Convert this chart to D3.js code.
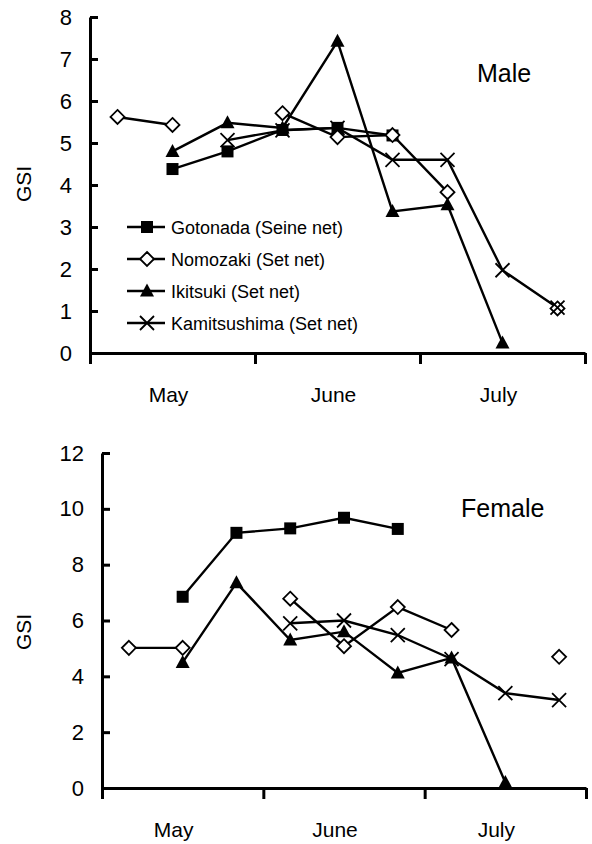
<!DOCTYPE html>
<meta charset="utf-8">
<style>
body { margin: 0; background: #fff; }
svg { display: block; }
.axis path, .axis line { stroke: #000; stroke-width: 3px; }
.axis text { font-family: 'Liberation Sans', Arial, sans-serif; font-size: 22px; fill: #000; }
.series { fill: none; stroke: #000; stroke-width: 2.4px; }
.lbl { font-family: 'Liberation Sans', Arial, sans-serif; fill: #000; }
</style>
<body>
<div id="chart"></div>
<script src="https://d3js.org/d3.v7.min.js"></script>
<script>
// ten-day periods, early / mid / late of each month
const periods = ["May-1", "May-2", "May-3", "Jun-1", "Jun-2", "Jun-3", "Jul-1", "Jul-2", "Jul-3"];
const months = ["May", "June", "July"];
const sites = ["Gotonada (Seine net)", "Nomozaki (Set net)", "Ikitsuki (Set net)", "Kamitsushima (Set net)"];
const markers = ["square", "diamond", "triangle", "cross"];

// GSI, male
const maleGotonada     = [null, 4.38, 4.8, 5.31, 5.36, 5.18, null, null, null];
const maleNomozaki     = [5.62, 5.43, null, 5.71, 5.14, 5.19, 3.83, null, 1.06];
const maleIkitsuki     = [null, 4.8, 5.48, 5.36, 7.42, 3.37, 3.53, 0.24, null];
const maleKamitsushima = [null, null, 5.07, 5.3, 5.36, 4.6, 4.6, 1.97, 1.08];

// GSI, female
const femaleGotonada     = [null, 6.85, 9.14, 9.3, 9.68, 9.28, null, null, null];
const femaleNomozaki     = [5.02, 5.02, null, 6.78, 5.08, 6.48, 5.66, null, 4.7];
const femaleIkitsuki     = [null, 4.5, 7.35, 5.3, 5.6, 4.12, 4.66, 0.2, null];
const femaleKamitsushima = [null, null, null, 5.9, 6.0, 5.48, 4.62, 3.4, 3.15];

const maleTicks = [0, 1, 2, 3, 4, 5, 6, 7, 8];
const femaleTicks = [0, 2, 4, 6, 8, 10, 12];

const width = 592, height = 844;

const svg = d3.select("#chart").append("svg")
	.attr("width", width)
	.attr("height", height);

// marker shapes, centred on 0,0
function marker(sel, type) {
	if (type == "square") {
		sel.append("rect").attr("x", -6).attr("y", -6).attr("width", 12).attr("height", 12)
			.attr("fill", "#000");
	} else if (type == "diamond") {
		sel.append("path").attr("d", "M0,-7L7,0L0,7L-7,0Z")
			.attr("fill", "#fff").attr("stroke", "#000").attr("stroke-width", 1.8);
	} else if (type == "triangle") {
		sel.append("path").attr("d", "M0,-7.5L7,5.5L-7,5.5Z")
			.attr("fill", "#000");
	} else {
		sel.append("path").attr("d", "M-7,-7L7,7M-7,7L7,-7")
			.attr("fill", "none").attr("stroke", "#000").attr("stroke-width", 1.8);
	}
}

function drawPanel(opts) {
	const g = svg.append("g");

	const x = d3.scalePoint().domain(periods).range([opts.left, opts.right]).padding(0.5);
	const xMonth = d3.scaleLinear().domain([0, months.length]).range([opts.left, opts.right]);
	const xBand = d3.scaleBand().domain(months).range([opts.left, opts.right]);
	const y = d3.scaleLinear().domain([0, opts.yMax]).range([opts.bottom, opts.top]);

	// axes
	g.append("g").attr("class", "axis")
		.attr("transform", "translate(" + opts.left + ",0)")
		.call(d3.axisLeft(y).tickValues(opts.ticks).tickSizeInner(-8).tickSizeOuter(0).tickPadding(18));

	g.append("g").attr("class", "axis")
		.attr("transform", "translate(0," + opts.bottom + ")")
		.call(d3.axisBottom(xMonth).tickValues([0, 1, 2, 3]).tickSize(11).tickSizeOuter(0).tickFormat(""));

	g.selectAll(".month")
		.data(months)
		.join("text")
		.attr("class", "lbl month")
		.attr("x", d => xBand(d) + xBand.bandwidth() / 2 + opts.monthShift)
		.attr("y", opts.bottom + 49)
		.attr("text-anchor", "middle")
		.style("font-size", "21px")
		.text(d => d);

	g.append("text")
		.attr("class", "lbl")
		.attr("transform", "translate(31," + opts.gsiY + ") rotate(-90)")
		.attr("text-anchor", "middle")
		.style("font-size", "21px")
		.text("GSI");

	g.append("text")
		.attr("class", "lbl")
		.attr("x", opts.titleX)
		.attr("y", opts.titleY)
		.style("font-size", "25px")
		.text(opts.title);

	const line = d3.line()
		.defined(d => d != null)
		.x((d, i) => x(periods[i]))
		.y(d => y(d));

	opts.series.forEach(function(s, k) {
		g.append("path").attr("class", "series").attr("d", line(s));
	});

	opts.series.forEach(function(s, k) {
		s.forEach(function(v, i) {
			if (v == null) return;
			const m = g.append("g").attr("transform", "translate(" + x(periods[i]) + "," + y(v) + ")");
			marker(m, markers[k]);
		});
	});
}

drawPanel({
	left: 90, right: 585, top: 17, bottom: 353, yMax: 8, ticks: maleTicks,
	monthShift: -4, gsiY: 184, title: "Male", titleX: 477, titleY: 82,
	series: [maleGotonada, maleNomozaki, maleIkitsuki, maleKamitsushima]
});

drawPanel({
	left: 102, right: 586, top: 453, bottom: 788, yMax: 12, ticks: femaleTicks,
	monthShift: -9, gsiY: 632, title: "Female", titleX: 461, titleY: 517,
	series: [femaleGotonada, femaleNomozaki, femaleIkitsuki, femaleKamitsushima]
});

// legend (male panel)
const legend = svg.append("g").attr("transform", "translate(127,227)");
sites.forEach(function(name, k) {
	const row = legend.append("g").attr("transform", "translate(0," + (k * 32) + ")");
	row.append("line").attr("x1", 0).attr("x2", 38).attr("y1", 0).attr("y2", 0)
		.attr("stroke", "#000").attr("stroke-width", 2.4);
	const m = row.append("g").attr("transform", "translate(20,0)");
	marker(m, markers[k]);
	row.append("text").attr("class", "lbl")
		.attr("x", 44).attr("y", 6.5)
		.style("font-size", "18px")
		.text(name);
});
</script>
</body>
